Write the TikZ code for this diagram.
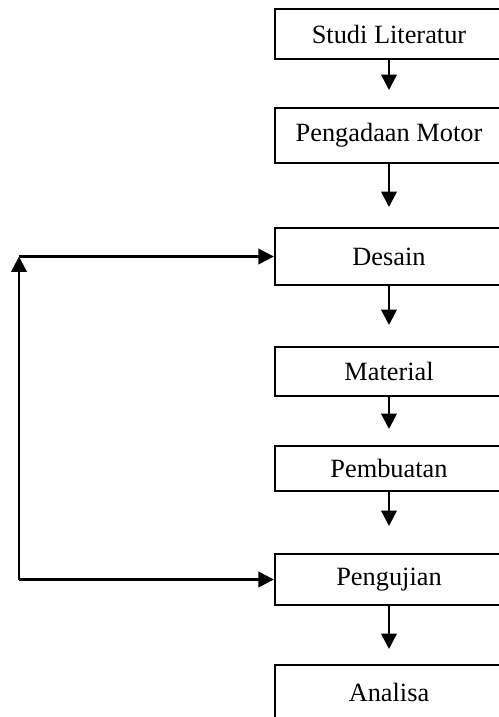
\documentclass[tikz,border=0pt]{standalone}
\usepackage{fontspec}
\setmainfont{Liberation Serif}
\usetikzlibrary{arrows.meta}
\begin{document}
\begin{tikzpicture}[x=0.016cm, y=-0.016cm,
    box/.style={draw, line width=1.1pt, rectangle, minimum width=3.648cm, font=\fontsize{12}{14}\selectfont},
    arr/.style={line width=1.1pt, -{Triangle[width=7pt,length=7pt]}}]
        \clip (0, 0) rectangle (499, 717);

        \node[box, minimum height=0.80cm] (studi) at (389, 34) {Studi Literatur};
        \node[box, minimum height=0.88cm] (pengadaan) at (389, 135.5) {Pengadaan Motor};
        \node[box, minimum height=0.912cm] (desain) at (389, 256.5) {Desain};
        \node[box, minimum height=0.784cm] (material) at (389, 371.5) {Material};
        \node[box, minimum height=0.72cm] (pembuatan) at (389, 468.5) {Pembuatan};
        \node[box, minimum height=0.816cm] (pengujian) at (389, 579.5) {Pengujian};
        \node[box, minimum height=0.88cm] (analisa) at (389, 692.5) {Analisa};

        \coordinate (t1) at (389, 90);
        \coordinate (t2) at (389, 207);
        \coordinate (t3) at (389, 325);
        \coordinate (t4) at (389, 429);
        \coordinate (t5) at (389, 526);
        \coordinate (t6) at (389, 649);
        \coordinate (up) at (19, 256.5);
        \coordinate (down) at (19, 579.5);

        \draw[arr] (studi.south) -- (t1);
        \draw[arr] (pengadaan.south) -- (t2);
        \draw[arr] (desain.south) -- (t3);
        \draw[arr] (material.south) -- (t4);
        \draw[arr] (pembuatan.south) -- (t5);
        \draw[arr] (pengujian.south) -- (t6);

        \draw[arr] (down) -- (up);
        \draw[arr] (up) -- (desain.west);
        \draw[arr] (down) -- (pengujian.west);

    \end{tikzpicture}
\end{document}
